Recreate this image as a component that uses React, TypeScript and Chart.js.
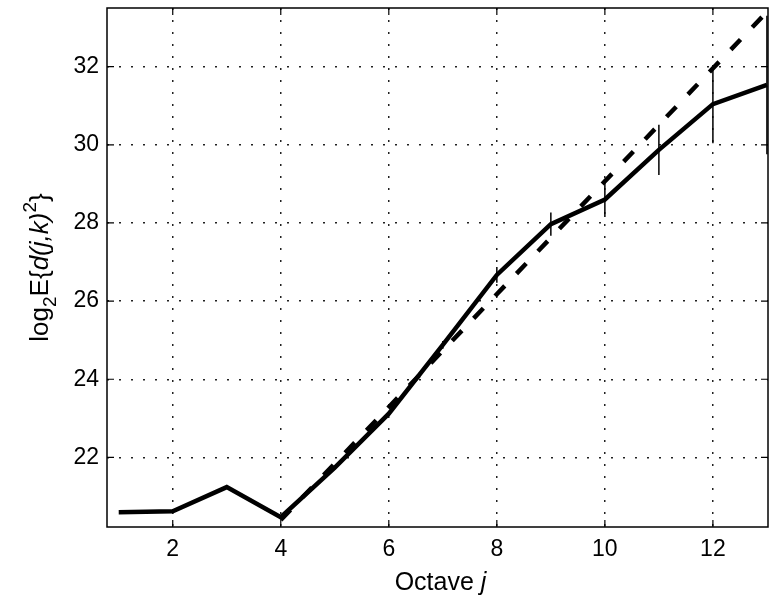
import React, { useEffect, useRef } from "react";
import { Chart, registerables } from "chart.js";

Chart.register(...registerables);

const octaves = [1, 2, 3, 4, 5, 6, 7, 8, 9, 10, 11, 12, 13];
const logEnergy = [20.6, 20.62, 21.24, 20.47, 21.74, 23.12, 24.88, 26.67, 27.97, 28.6, 29.87, 31.04, 31.53];
const errHalf = [0, 0, 0, 0, 0.05, 0.05, 0.1, 0.2, 0.3, 0.45, 0.64, 1.0, 1.77];
const fitOctaves = [4, 13];
const fitValues = [20.4, 33.4];
const xTicks = [2, 4, 6, 8, 10, 12];
const yTicks = [22, 24, 26, 28, 30, 32];

const FONT = '"Liberation Sans", Arial, Helvetica, sans-serif';

type Seg = { t: string; italic?: boolean; sub?: boolean; sup?: boolean };

function drawRich(ctx: CanvasRenderingContext2D, segs: Seg[], size: number) {
  const fontFor = (s: Seg) => {
    const sz = s.sub || s.sup ? Math.round(size * 0.72) : size;
    return `${s.italic ? "italic " : ""}${sz}px ${FONT}`;
  };
  let total = 0;
  const widths = segs.map((s) => {
    ctx.font = fontFor(s);
    const w = ctx.measureText(s.t).width;
    total += w;
    return w;
  });
  let cx = -total / 2;
  segs.forEach((s, i) => {
    ctx.font = fontFor(s);
    let dy = 0;
    if (s.sub) dy = size * 0.3;
    if (s.sup) dy = -size * 0.45;
    ctx.fillText(s.t, cx, dy);
    cx += widths[i];
  });
}

const decorPlugin = {
  id: "decor",
  afterDatasetsDraw(chart: any) {
    const { ctx, chartArea, scales } = chart;
    const { left, right, top, bottom } = chartArea;
    const x = scales.x;
    const y = scales.y;
    ctx.save();
    ctx.strokeStyle = "#000";
    ctx.lineWidth = 1.5;
    octaves.forEach((o, i) => {
      const e = errHalf[i];
      if (!e) return;
      const px = x.getPixelForValue(o);
      ctx.beginPath();
      ctx.moveTo(px, y.getPixelForValue(logEnergy[i] - e));
      ctx.lineTo(px, y.getPixelForValue(logEnergy[i] + e));
      ctx.stroke();
    });
    ctx.lineWidth = 1.5;
    ctx.strokeRect(left, top, right - left, bottom - top);
    ctx.lineWidth = 1.2;
    xTicks.forEach((v) => {
      const px = x.getPixelForValue(v);
      ctx.beginPath();
      ctx.moveTo(px, bottom);
      ctx.lineTo(px, bottom - 7);
      ctx.moveTo(px, top);
      ctx.lineTo(px, top + 7);
      ctx.stroke();
    });
    yTicks.forEach((v) => {
      const py = y.getPixelForValue(v);
      ctx.beginPath();
      ctx.moveTo(left, py);
      ctx.lineTo(left + 7, py);
      ctx.moveTo(right, py);
      ctx.lineTo(right - 7, py);
      ctx.stroke();
    });
    ctx.fillStyle = "#000";
    ctx.textBaseline = "alphabetic";
    ctx.textAlign = "left";
    // x title
    ctx.save();
    ctx.translate((left + right) / 2 + 3, 590);
    drawRich(ctx, [{ t: "Octave " }, { t: "j", italic: true }], 25);
    ctx.restore();
    // y title
    ctx.save();
    ctx.translate(48, (top + bottom) / 2);
    ctx.rotate(-Math.PI / 2);
    drawRich(
      ctx,
      [
        { t: "log" },
        { t: "2", sub: true },
        { t: "E{" },
        { t: "d(j,k)", italic: true },
        { t: "2", sup: true },
        { t: "}" },
      ],
      26
    );
    ctx.restore();
    ctx.restore();
  },
};

export default function App() {
  const ref = useRef<HTMLCanvasElement | null>(null);
  useEffect(() => {
    if (!ref.current) return;
    const chart = new Chart(ref.current, {
      type: "line",
      data: {
        datasets: [
          {
            label: "fit",
            data: fitOctaves.map((o, i) => ({ x: o, y: fitValues[i] })),
            borderColor: "#000",
            borderWidth: 4.5,
            borderDash: [14, 17],
            pointRadius: 0,
            tension: 0,
            fill: false,
          },
          {
            label: "log2 energy",
            data: octaves.map((o, i) => ({ x: o, y: logEnergy[i] })),
            borderColor: "#000",
            borderWidth: 4.5,
            pointRadius: 0,
            tension: 0,
            fill: false,
            borderJoinStyle: "miter",
          },
        ],
      },
      options: {
        animation: false,
        responsive: false,
        maintainAspectRatio: false,
        devicePixelRatio: 1,
        layout: { padding: { top: 8, right: 1, left: 0, bottom: 0 } },
        plugins: { legend: { display: false }, tooltip: { enabled: false } },
        scales: {
          x: {
            type: "linear",
            min: 0.783,
            max: 13.02,
            afterBuildTicks: (s: any) => {
              s.ticks = xTicks.map((v) => ({ value: v }));
            },
            afterFit: (s: any) => {
              s.height = 72;
              s.paddingLeft = 0;
              s.paddingRight = 0;
            },
            grid: { color: "#222", lineWidth: 1.5, drawTicks: false },
            border: { display: false, dash: [2, 10] },
            ticks: {
              color: "#000",
              font: { family: FONT, size: 23 },
              padding: 9,
              maxRotation: 0,
              autoSkip: false,
            },
          },
          y: {
            type: "linear",
            min: 20.22,
            max: 33.5,
            afterBuildTicks: (s: any) => {
              s.ticks = yTicks.map((v) => ({ value: v }));
            },
            afterFit: (s: any) => {
              s.width = 107;
              s.paddingTop = 0;
              s.paddingBottom = 0;
            },
            grid: { color: "#222", lineWidth: 1.5, drawTicks: false },
            border: { display: false, dash: [2, 10] },
            ticks: {
              color: "#000",
              font: { family: FONT, size: 23 },
              padding: 8,
              autoSkip: false,
            },
          },
        },
      },
      plugins: [decorPlugin],
    } as any);
    return () => chart.destroy();
  }, []);
  return (
    <div style={{ position: "fixed", left: 0, top: 0, width: 769, height: 599, background: "#fff" }}>
      <canvas ref={ref} width={769} height={599} style={{ display: "block" }} />
    </div>
  );
}
